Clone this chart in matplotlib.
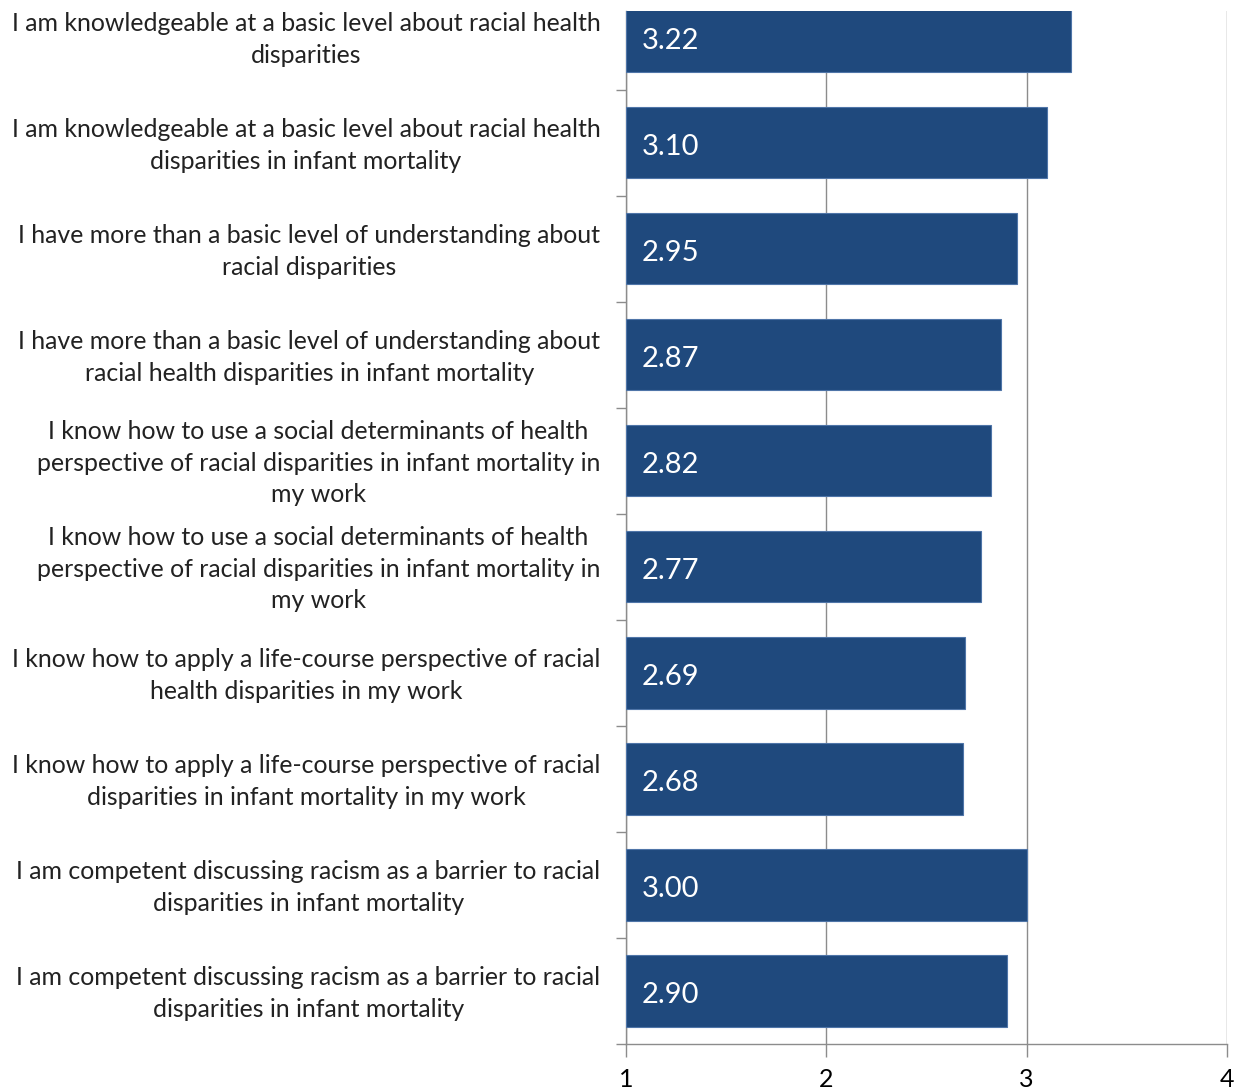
import matplotlib.pyplot as plt
import matplotlib.transforms as mtransforms
import numpy as np

# Survey items (top to bottom) and mean ratings
items = [
    'I am knowledgeable at a basic level about racial health\ndisparities',
    'I am knowledgeable at a basic level about racial health\ndisparities in infant mortality',
    'I have more than a basic level of understanding about\nracial disparities',
    'I have more than a basic level of understanding about\nracial health disparities in infant mortality',
    'I know how to use a social determinants of health\nperspective of racial disparities in infant mortality in\nmy work',
    'I know how to use a social determinants of health\nperspective of racial disparities in infant mortality in\nmy work',
    'I know how to apply a life-course perspective of racial\nhealth disparities in my work',
    'I know how to apply a life-course perspective of racial\ndisparities in infant mortality in my work',
    'I am competent discussing racism as a barrier to racial\ndisparities in infant mortality',
    'I am competent discussing racism as a barrier to racial\ndisparities in infant mortality',
]
means = [3.22, 3.10, 2.95, 2.87, 2.82, 2.77, 2.69, 2.68, 3.00, 2.90]
x_ticks = [1, 2, 3, 4]

plt.rcParams['font.family'] = ['Lato', 'DejaVu Sans']

fig = plt.figure(figsize=(12.43, 10.9), dpi=100)
ax = fig.add_axes([626 / 1243, 1 - 1044 / 1090, (1227 - 626) / 1243, (1044 - 11) / 1090])

y = np.arange(len(items))
bar_color = '#1F497D'
ax.barh(y, [m - 1 for m in means], left=1, height=0.67, color=bar_color,
        edgecolor='#4F75A8', linewidth=0.8, zorder=3)

# value labels inside the bars, nudged slightly down
nudge_down = mtransforms.ScaledTranslation(0, -0.02, fig.dpi_scale_trans)
for yi, m in zip(y, means):
    ax.text(1.08, yi, f'{m:.2f}', color='white', fontsize=21,
            ha='left', va='center_baseline', zorder=4,
            transform=ax.transData + nudge_down)

ax.set_xlim(1, 4)
ax.set_ylim(len(items) - 0.5, -0.245)

ax.set_xticks(x_ticks)
ax.set_xticklabels([str(t) for t in x_ticks], fontsize=18)
ax.xaxis.grid(True, color='#8C8C8C', linewidth=1.0, zorder=0)

# category labels at bar centres, tick marks at slot boundaries
ax.set_yticks(y)
ax.set_yticklabels(items, fontsize=17.9, multialignment='center', linespacing=1.45,
                   color='#222222')
ax.set_yticks(np.arange(0.5, len(items)), minor=True)
ax.tick_params(axis='y', which='major', length=0, pad=18.5)
ax.tick_params(axis='y', which='minor', length=7, color='#8C8C8C', width=1)
ax.tick_params(axis='x', length=9, color='#8C8C8C', width=1, pad=8)

nudge_up = mtransforms.ScaledTranslation(0, 0.04, fig.dpi_scale_trans)
for lbl in ax.get_yticklabels():
    lbl.set_transform(lbl.get_transform() + nudge_up)

for side in ['top', 'right']:
    ax.spines[side].set_visible(False)
for side in ['left', 'bottom']:
    ax.spines[side].set_color('#8C8C8C')
    ax.spines[side].set_linewidth(1.0)

fig.savefig('out.png', dpi=100, facecolor='white')
